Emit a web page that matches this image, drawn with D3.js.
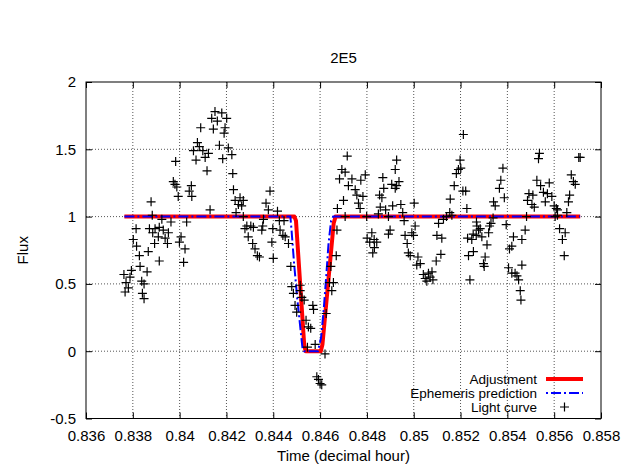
<!DOCTYPE html>
<html>
<head>
<meta charset="utf-8">
<script src="https://cdn.jsdelivr.net/npm/d3@7"></script>
<style>
  html, body { margin: 0; padding: 0; background: #fff; }
  svg text { font-family: "Liberation Sans", Arial, Helvetica, sans-serif; fill: #000; }
</style>
</head>
<body>
<svg id="chart" width="644" height="468"></svg>
<script>
const title = "2E5";
const xLabel = "Time (decimal hour)";
const yLabel = "Flux";
const xTicks = [0.836, 0.838, 0.840, 0.842, 0.844, 0.846, 0.848, 0.850, 0.852, 0.854, 0.856, 0.858];
const xTickLabels = ["0.836", "0.838", "0.84", "0.842", "0.844", "0.846", "0.848", "0.85", "0.852", "0.854", "0.856", "0.858"];
const yTicks = [-0.5, 0, 0.5, 1, 1.5, 2];
const yTickLabels = ["-0.5", "0", "0.5", "1", "1.5", "2"];
const seriesNames = ["Adjustment", "Ephemeris prediction", "Light curve"];

// Adjustment (fitted model)
const adjTime = [0.83764, 0.84490, 0.84497, 0.84532, 0.84538, 0.84603, 0.84610, 0.84658, 0.84666, 0.85711];
const adjFlux = [1, 1, 0.97, 0.05, 0, 0, 0.05, 0.95, 1, 1];

// Ephemeris prediction
const ephTime = [0.83764, 0.84473, 0.84478, 0.84489, 0.84502, 0.84517, 0.84525, 0.84532, 0.84591, 0.84604, 0.84615, 0.84626, 0.84636, 0.84647, 0.84656, 0.85711];
const ephFlux = [1, 1, 0.9, 0.65, 0.4, 0.15, 0.02, 0, 0, 0.1, 0.3, 0.55, 0.8, 0.97, 1, 1];

// Light curve measurements
const lcTime = [
0.83762,0.83767,0.83771,0.83781,0.83788,0.83794,0.83802,0.83814,0.83816,0.83828,
0.83831,0.83838,0.83841,0.83848,0.83848,0.83861,0.83866,0.83871,0.83878,0.83883,
0.83885,0.83893,0.83895,0.83909,0.83913,0.83913,0.83924,0.83930,0.83938,0.83948,
0.83952,0.83963,0.83973,0.83980,0.83983,0.83988,0.83994,0.83999,0.84006,0.84017,
0.84023,0.84030,0.84041,0.84050,0.84052,0.84059,0.84070,0.84076,0.84084,0.84090,
0.84099,0.84109,0.84117,0.84123,0.84130,0.84137,0.84144,0.84151,0.84161,0.84170,
0.84180,0.84184,0.84190,0.84194,0.84201,0.84208,0.84223,0.84227,0.84230,0.84237,
0.84241,0.84251,0.84258,0.84265,0.84272,0.84272,0.84279,0.84287,0.84293,0.84304,
0.84312,0.84315,0.84322,0.84332,0.84341,0.84351,0.84355,0.84358,0.84369,0.84379,
0.84386,0.84394,0.84398,0.84400,0.84418,0.84426,0.84429,0.84441,0.84446,0.84451,
0.84465,0.84475,0.84479,0.84486,0.84493,0.84500,0.84515,0.84515,0.84522,0.84532,
0.84540,0.84546,0.84550,0.84560,0.84569,0.84572,0.84579,0.84586,0.84593,0.84600,
0.84607,0.84621,0.84626,0.84640,0.84646,0.84650,0.84657,0.84669,0.84672,0.84674,
0.84683,0.84693,0.84700,0.84707,0.84707,0.84716,0.84721,0.84736,0.84750,0.84757,
0.84764,0.84771,0.84774,0.84783,0.84793,0.84799,0.84801,0.84812,0.84821,0.84831,
0.84832,0.84825,0.84842,0.84849,0.84854,0.84857,0.84864,0.84868,0.84872,0.84880,
0.84892,0.84892,0.84899,0.84906,0.84910,0.84921,0.84921,0.84927,0.84927,0.84937,
0.84945,0.84953,0.84959,0.84963,0.84972,0.84977,0.84985,0.84992,0.84999,0.85002,
0.85006,0.85013,0.85018,0.85028,0.85041,0.85049,0.85056,0.85063,0.85070,0.85078,
0.85082,0.85096,0.85099,0.85106,0.85116,0.85120,0.85127,0.85140,0.85154,0.85163,
0.85156,0.85173,0.85182,0.85191,0.85198,0.85201,0.85212,0.85210,0.85222,0.85227,
0.85230,0.85234,0.85240,0.85248,0.85254,0.85255,0.85268,0.85270,0.85277,0.85267,
0.85291,0.85284,0.85298,0.85301,0.85305,0.85313,0.85320,0.85324,0.85330,0.85339,
0.85341,0.85348,0.85366,0.85372,0.85381,0.85387,0.85395,0.85405,0.85409,0.85419,
0.85419,0.85426,0.85433,0.85441,0.85448,0.85455,0.85458,0.85462,0.85462,0.85476,
0.85482,0.85486,0.85492,0.85509,0.85505,0.85515,0.85526,0.85537,0.85533,0.85542,
0.85554,0.85562,0.85571,0.85579,0.85590,0.85600,0.85609,0.85614,0.85614,0.85604,
0.85623,0.85635,0.85647,0.85643,0.85654,0.85661,0.85666,0.85673,0.85682,0.85690,
0.85705,0.85711
];
const lcFlux = [
0.57,0.44,0.51,0.47,0.55,0.60,0.83,0.91,0.78,0.71,
0.63,0.52,0.43,0.50,0.39,0.59,0.74,0.91,1.11,1.01,
0.88,0.80,0.91,0.85,0.92,0.67,0.98,0.90,0.84,0.80,
0.88,0.96,1.26,1.24,1.41,1.22,1.15,0.81,0.85,0.66,
0.76,0.96,1.19,1.23,1.15,1.49,1.42,1.55,1.52,1.66,
1.49,1.44,1.34,1.47,1.05,1.73,1.65,1.78,1.71,1.53,
1.77,1.43,1.62,1.66,1.73,1.51,1.46,1.32,1.20,1.12,
1.03,1.09,1.14,1.08,1.12,1.00,0.91,0.93,0.85,0.93,
0.80,0.92,0.76,0.71,0.70,0.90,0.93,0.98,1.10,1.05,
1.19,0.81,0.91,0.69,1.04,0.97,0.90,0.86,0.97,0.85,
0.80,0.63,0.48,0.43,0.34,0.29,0.49,0.45,0.40,0.38,
0.23,0.03,0.18,0.17,0.34,0.31,0.05,-0.19,-0.21,-0.24,
-0.25,-0.02,0.28,0.51,0.63,0.45,0.51,0.71,0.90,1.06,
1.28,1.35,1.12,1.33,1.00,1.45,1.23,1.28,1.20,1.16,
1.10,1.06,1.27,1.15,1.31,1.00,0.84,0.81,0.88,0.83,
0.77,0.73,0.81,1.02,1.16,1.07,1.14,1.29,1.21,1.05,
1.00,0.87,0.90,1.24,1.08,1.35,1.21,1.42,1.23,1.26,
1.09,1.03,0.97,0.86,0.80,0.73,0.71,0.88,0.86,1.10,
0.93,0.64,0.70,0.65,0.57,0.54,0.52,0.58,0.55,0.59,
0.53,0.67,0.86,0.95,0.72,0.84,0.98,1.00,1.03,1.01,
1.13,1.23,1.32,1.35,1.42,1.36,1.61,1.19,1.19,1.06,
0.84,0.71,0.53,0.83,0.87,0.74,0.96,0.93,0.90,0.86,
0.85,0.91,0.65,0.63,0.70,0.79,0.88,0.93,0.95,0.99,
1.11,1.08,1.21,1.27,1.36,1.14,0.94,0.62,0.76,0.78,
0.58,0.85,0.58,0.56,0.53,0.45,0.38,0.64,0.83,0.90,
1.00,1.12,1.17,1.16,1.09,1.07,1.27,1.47,1.43,1.23,
1.18,1.11,1.17,1.25,1.15,1.08,1.06,1.05,1.01,1.00,
0.91,0.83,0.88,0.71,1.03,1.11,1.16,1.31,1.26,1.24,
1.44,1.44
];

const svg = d3.select("#chart");
const W = 644, H = 468;
const m = { left: 86, right: 601, top: 82, bottom: 418.5 };
const FS = 15;
const LFS = 13.5;

const x = d3.scaleLinear().domain([0.836, 0.858]).range([m.left, m.right]);
const y = d3.scaleLinear().domain([-0.5, 2]).range([m.bottom, m.top]);

svg.append("rect").attr("width", W).attr("height", H).attr("fill", "#fff");

// grid
const grid = svg.append("g");
grid.selectAll("line.gx").data(xTicks.slice(1, -1)).enter().append("line")
  .attr("x1", d => x(d)).attr("x2", d => x(d))
  .attr("y1", m.top).attr("y2", m.bottom)
  .attr("stroke", "#555").attr("stroke-width", 1).attr("stroke-dasharray", "1,2");
grid.selectAll("line.gy").data(yTicks.slice(1, -1)).enter().append("line")
  .attr("x1", m.left).attr("x2", m.right)
  .attr("y1", d => y(d)).attr("y2", d => y(d))
  .attr("stroke", "#555").attr("stroke-width", 1).attr("stroke-dasharray", "1,2");

// axes (ticks inward, mirrored)
const tickLen = 6;
const fmtX = (d, i) => xTickLabels[i];
const fmtY = (d, i) => yTickLabels[i];
const axB = d3.axisBottom(x).tickValues(xTicks).tickFormat(fmtX).tickSizeInner(-tickLen).tickSizeOuter(0).tickPadding(12);
const axT = d3.axisTop(x).tickValues(xTicks).tickFormat("").tickSizeInner(-tickLen).tickSizeOuter(0);
const axL = d3.axisLeft(y).tickValues(yTicks).tickFormat(fmtY).tickSizeInner(-tickLen).tickSizeOuter(0).tickPadding(10);
const axR = d3.axisRight(y).tickValues(yTicks).tickFormat("").tickSizeInner(-tickLen).tickSizeOuter(0);

function styleAxis(g) {
  g.select(".domain").remove();
  g.selectAll(".tick line").attr("stroke", "#000");
  g.selectAll(".tick text").attr("font-size", FS).attr("fill", "#000")
    .attr("font-family", "'Liberation Sans', Arial, sans-serif");
}
svg.append("g").attr("transform", `translate(0,${m.bottom})`).call(axB).call(styleAxis);
svg.append("g").attr("transform", `translate(0,${m.top})`).call(axT).call(styleAxis);
svg.append("g").attr("transform", `translate(${m.left},0)`).call(axL).call(styleAxis);
svg.append("g").attr("transform", `translate(${m.right},0)`).call(axR).call(styleAxis);

// clip
svg.append("clipPath").attr("id", "clip").append("rect")
  .attr("x", m.left).attr("y", m.top).attr("width", m.right - m.left).attr("height", m.bottom - m.top);
const plot = svg.append("g").attr("clip-path", "url(#clip)");

const line = d3.line().x(d => x(d[0])).y(d => y(d[1]));
const adjData = adjTime.map((t, i) => [t, adjFlux[i]]);
const ephData = ephTime.map((t, i) => [t, ephFlux[i]]);
const lcData = lcTime.map((t, i) => [t, lcFlux[i]]);

plot.append("path").datum(adjData).attr("d", line)
  .attr("fill", "none").attr("stroke", "#ff0000").attr("stroke-width", 4).attr("stroke-linejoin", "round");
plot.append("path").datum(ephData).attr("d", line)
  .attr("fill", "none").attr("stroke", "#0000ff").attr("stroke-width", 2).attr("stroke-dasharray", "10,3,2,3");

const pr = 4.5;
const pts = plot.append("g").attr("stroke", "#000").attr("stroke-width", 1.2);
pts.selectAll("path").data(lcData).enter().append("path")
  .attr("d", d => { const cx = x(d[0]), cy = y(d[1]);
    return `M${cx - pr},${cy}H${cx + pr}M${cx},${cy - pr}V${cy + pr}`; });

// frame
svg.append("rect").attr("x", m.left).attr("y", m.top)
  .attr("width", m.right - m.left).attr("height", m.bottom - m.top)
  .attr("fill", "none").attr("stroke", "#000").attr("stroke-width", 1);

// legend
const legX = 537, sx1 = 546, sx2 = 583;
const legY = [379, 393, 407];
const leg = svg.append("g");
seriesNames.forEach((n, i) => {
  leg.append("text").attr("x", legX).attr("y", legY[i]).attr("dy", "0.35em")
    .attr("text-anchor", "end").attr("font-size", LFS).text(n);
});
leg.append("line").attr("x1", sx1).attr("x2", sx2).attr("y1", legY[0]).attr("y2", legY[0])
  .attr("stroke", "#ff0000").attr("stroke-width", 4);
leg.append("line").attr("x1", sx1).attr("x2", sx2).attr("y1", legY[1]).attr("y2", legY[1])
  .attr("stroke", "#0000ff").attr("stroke-width", 2).attr("stroke-dasharray", "2,3,10,3");
const lx = (sx1 + sx2) / 2;
leg.append("path").attr("d", `M${lx - pr},${legY[2]}H${lx + pr}M${lx},${legY[2] - pr}V${legY[2] + pr}`)
  .attr("stroke", "#000").attr("stroke-width", 1.2);

// titles
svg.append("text").attr("x", (m.left + m.right) / 2).attr("y", 63)
  .attr("text-anchor", "middle").attr("font-size", FS).text(title);
svg.append("text").attr("x", (m.left + m.right) / 2).attr("y", 461)
  .attr("text-anchor", "middle").attr("font-size", FS).text(xLabel);
svg.append("text").attr("transform", `translate(28,${(m.top + m.bottom) / 2}) rotate(-90)`)
  .attr("text-anchor", "middle").attr("font-size", FS).text(yLabel);
</script>
</body>
</html>
